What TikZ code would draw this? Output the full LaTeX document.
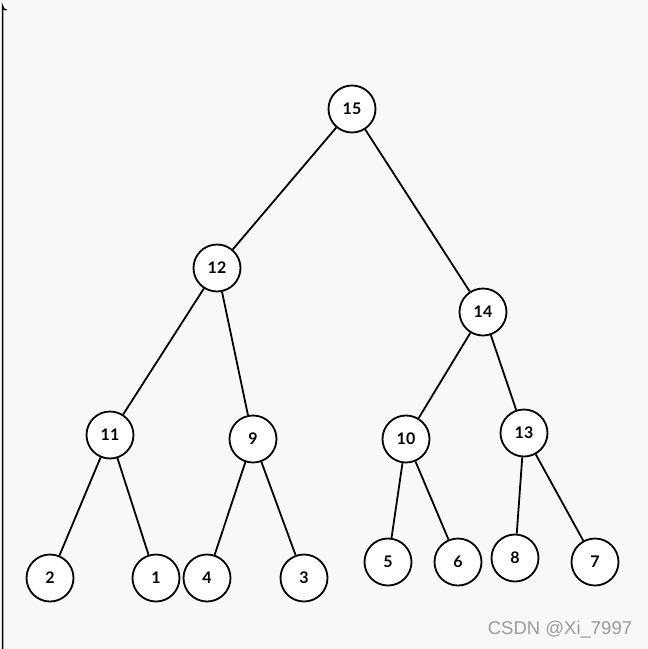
\documentclass[tikz,border=0pt]{standalone}
\usepackage{fontspec}
\setmainfont{Lato}
\newfontfamily\markfont{Liberation Sans}
\usepackage{tikz}

\definecolor{bggray}{HTML}{F8F8F8}
\definecolor{markgray}{HTML}{9A9A9A}

\tikzset{
    treenode/.style={circle, draw=black, fill=white, line width=1.8pt,
        minimum size=47pt, inner sep=0pt, font=\bfseries\fontsize{16}{16}\selectfont},
    treeedge/.style={line width=1.8pt, black}
}

\begin{document}
\begin{tikzpicture}[x=1pt, y=-1pt]
        % 背景与左侧边框
        \fill[bggray] (0,0) rectangle (648,649);
        \useasboundingbox (0,0) rectangle (648,649);
        \draw[line width=1.5pt] (2.5,649) -- (2.5,6) arc (180:90:4);
        % 结点(名称/x/y)
        \foreach \n/\x/\y in {
            15/352/109, 12/217/268, 14/483/312,
            11/110/435, 9/253/439, 10/406/439, 13/524/433,
            2/50/578, 1/156/578, 4/207/578, 3/304/578,
            5/388/562, 6/458/562, 8/515/558, 7/595/562
        } {
            \node[treenode] (n\n) at (\x,\y) {\n};
        }
        % 父子连线
        \foreach \a/\b in {15/12, 15/14, 12/11, 12/9, 14/10, 14/13,
                           11/2, 11/1, 9/4, 9/3, 10/5, 10/6, 13/8, 13/7} {
            \draw[treeedge] (n\a) -- (n\b);
        }
        % 水印
        \node[text=markgray, font=\fontsize{18.5}{18.5}\selectfont\markfont] (mark) at (560,630) {CSDN @Xi\_7997};
    \end{tikzpicture}
\end{document}
